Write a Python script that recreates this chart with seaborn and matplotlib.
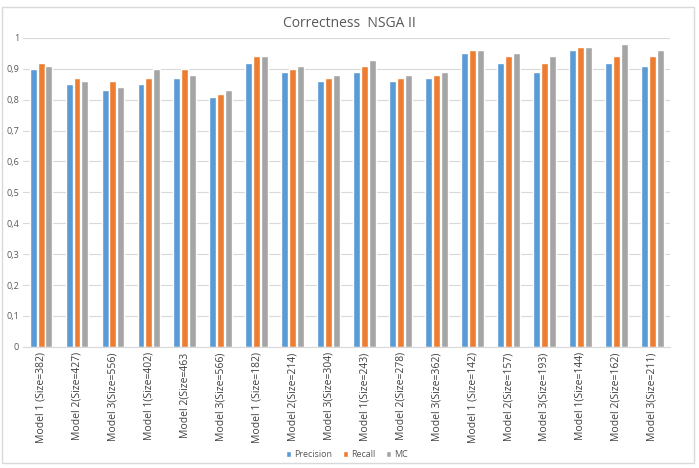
import numpy as np
import pandas as pd
import matplotlib
matplotlib.use("Agg")
import matplotlib.pyplot as plt
import seaborn as sns

# ==========================================
# DATA
# ==========================================

models = ["Model 1 (Size=382)", "Model 2(Size=427)", "Model 3(Size=556)",
          "Model 1(Size=402)", "Model 2(Size=463", "Model 3(Size=566)",
          "Model 1 (Size=182)", "Model 2(Size=214)", "Model 3(Size=304)",
          "Model 1(Size=243)", "Model 2(Size=278)", "Model 3(Size=362)",
          "Model 1 (Size=142)", "Model 2(Size=157)", "Model 3(Size=193)",
          "Model 1(Size=144)", "Model 2(Size=162)", "Model 3(Size=211)"]

precision = [0.90, 0.85, 0.83, 0.85, 0.87, 0.81, 0.92, 0.89, 0.86,
             0.89, 0.86, 0.87, 0.95, 0.92, 0.89, 0.96, 0.92, 0.91]
recall = [0.92, 0.87, 0.86, 0.87, 0.90, 0.82, 0.94, 0.90, 0.87,
          0.91, 0.87, 0.88, 0.96, 0.94, 0.92, 0.97, 0.94, 0.94]
mc = [0.91, 0.86, 0.84, 0.90, 0.88, 0.83, 0.94, 0.91, 0.88,
      0.93, 0.88, 0.89, 0.96, 0.95, 0.94, 0.97, 0.98, 0.96]

series = ["Precision", "Recall", "MC"]
colors = ["#5B9BD5", "#ED7D31", "#A5A5A5"]

df = pd.DataFrame({"Model": models, "Precision": precision,
                   "Recall": recall, "MC": mc})
long = df.melt(id_vars="Model", var_name="Metric", value_name="Value")

# ==========================================
# PLOT
# ==========================================

sns.set_style("white")
plt.rcParams["font.family"] = ["Open Sans", "DejaVu Sans"]

fig = plt.figure(figsize=(6.99, 4.68), dpi=100)
ax = fig.add_axes([0.033, 0.259, 0.926, 0.660])

sns.barplot(data=long, x="Model", y="Value", hue="Metric", hue_order=series,
            palette=colors, width=0.66, gap=0.12, ax=ax, saturation=1)

ax.set_xlim(-0.5, len(models) - 0.5)
ax.set_ylim(0, 1)
ax.set_yticks(np.arange(0, 1.01, 0.1))
ytl = ["0"] + [f"{v:.1f}".replace(".", ",") for v in np.arange(0.1, 0.95, 0.1)] + ["1"]
ax.set_yticklabels(ytl, fontsize=6.5, color="#595959")
ax.grid(axis="y", color="#D9D9D9", linewidth=0.8)
ax.set_axisbelow(True)
ax.tick_params(axis="x", labelrotation=90, labelsize=7.5, labelcolor="#404040", length=0, pad=4)
ax.tick_params(axis="y", length=0, pad=3)
for s in ["top", "right", "left"]:
    ax.spines[s].set_visible(False)
ax.spines["bottom"].set_color("#D9D9D9")
ax.set_xlabel("")
ax.set_ylabel("")

fig.suptitle("Correctness  NSGA II", y=0.965, fontsize=10, color="#595959")

ax.legend(loc="lower center", bbox_to_anchor=(0.5, -0.39), ncol=3, frameon=False,
          fontsize=6.5, handlelength=0.6, handleheight=0.6, columnspacing=1.2,
          handletextpad=0.3, labelcolor="#595959")

# outer chart frame
fig.patches.append(plt.Rectangle((0.003, 0.01), 0.99, 0.975, transform=fig.transFigure,
                                 fill=False, edgecolor="#D9D9D9", linewidth=1))

fig.savefig("out.png", dpi=100)
